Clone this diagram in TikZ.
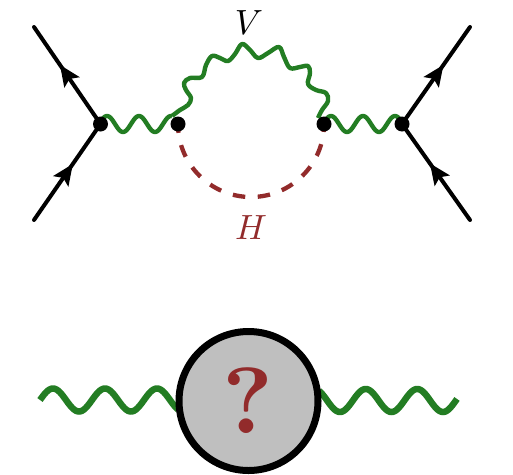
\documentclass[tikz,border=0pt]{standalone}
\usepackage{graphicx}
\usetikzlibrary{arrows.meta,decorations.markings}
\definecolor{wavegreen}{HTML}{237D23}
\definecolor{higgsred}{HTML}{922B2B}
\tikzset{
  fermion/.style={line width=4pt,black,line cap=round,postaction={decorate},
    decoration={markings,mark=at position #1 with {\arrow{Stealth[length=21pt,width=18pt,inset=4pt]}}}},
  vtx/.style={circle,fill=black,inner sep=0pt,minimum size=15pt},
  thinwave/.style={line width=4.4pt,wavegreen,line join=round},
  thickwave/.style={line width=6.5pt,wavegreen,line join=round},
  higgs/.style={line width=4.3pt,higgsred,dash pattern=on 12.5pt off 12.5pt,dash phase=3.6pt},
}
\begin{document}
\begin{tikzpicture}[x=1pt,y=-1pt]
\useasboundingbox (0,0) rectangle (513,474);
\coordinate (a1) at (34,27);
\coordinate (a2) at (34,220);
\coordinate (b1) at (470,27);
\coordinate (b2) at (470,220);
\coordinate (v1) at (100.5,124);
\coordinate (v2) at (178,124);
\coordinate (v3) at (324,124);
\coordinate (v4) at (402,124);
% fermions
\draw[fermion=0.61] (v1) -- (a1);
\draw[fermion=0.585] (a2) -- (v1);
\draw[fermion=0.61] (v4) -- (b1);
\draw[fermion=0.59] (b2) -- (v4);
% small waves
\draw[thinwave] plot[domain=100.5:172,samples=120] (\x,{124-8*cos(11.25*(\x-107))});
\draw[thinwave] plot[domain=324:402,samples=120] (\x,{124-8*cos(11.25*(\x-331))});
% loop wave
\draw[thinwave] plot[smooth,tension=0.6] coordinates {
 (172,116) (180,110) (188,105) (191,98) (186,90) (184,83) (190,78) (202,77) (206,65) (212,56)
 (220,58) (228,61) (235,54) (242,44) (250,50) (258,58) (268,53) (279,47) (284,57) (290,68) (300,67) (308,66) (310,73)
 (308,84) (316,90) (326,93) (328,101) (322,110) (318,118)};
% higgs
\draw[higgs] (v2) arc[start angle=180,end angle=0,radius=73];
% dots
\node[vtx] (d1) at (v1) {};
\node[vtx] (d2) at (v2) {};
\node[vtx] (d3) at (v3) {};
\node[vtx] (d4) at (v4) {};
% labels
\node (V) at (249,23) {\scalebox{3.5}{$V$}};
\node[text=higgsred] (H) at (251,228) {\scalebox{3.5}{$H$}};
% lower part
\draw[thickwave] plot[domain=40:178,samples=150] (\x,{400-11.5*cos(6.923*(\x-53))});
\draw[thickwave] plot[domain=319:457,samples=150] (\x,{400.5+11.5*cos(6.990*(\x-340))});
\node[circle,draw=black,fill=gray!50!white,line width=7pt,minimum size=139pt,inner sep=0pt,
      text=higgsred] (blob) at (248.5,401) {\scalebox{9.4}{\bfseries ?}};
\end{tikzpicture}
\end{document}
